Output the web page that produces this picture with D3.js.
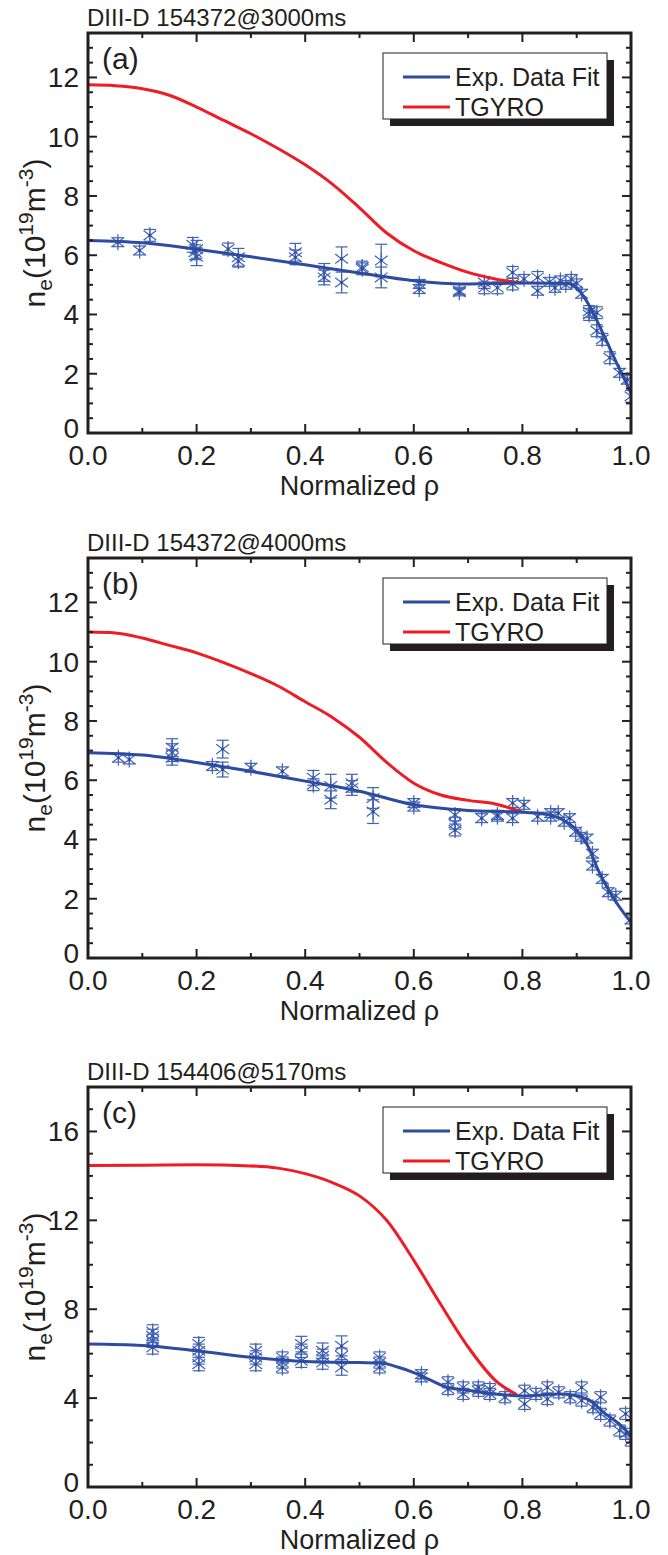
<!DOCTYPE html>
<html>
<head>
<meta charset="utf-8">
<script src="https://cdn.jsdelivr.net/npm/d3@7"></script>
<style>
  body { margin: 0; background: #fff; }
  svg text { font-family: "Liberation Sans", Arial, Helvetica, sans-serif; fill: #231f20; }
</style>
</head>
<body>
<div id="chart"></div>
<script>
// ---- data ----
var titles = ["DIII-D 154372@3000ms", "DIII-D 154372@4000ms", "DIII-D 154406@5170ms"]
var tags = ["(a)", "(b)", "(c)"]

// panel (a)
var fitRhoA = [0, 0.1, 0.2, 0.3, 0.4, 0.5, 0.6, 0.69, 0.8, 0.88, 0.9, 0.92, 0.95, 0.97, 1.0]
var fitA = [6.5, 6.42, 6.2, 5.95, 5.68, 5.4, 5.14, 5.03, 5.06, 5.05, 4.9, 4.4, 3.3, 2.5, 1.35]
var tgRhoA = [0, 0.05, 0.1, 0.15, 0.2, 0.25, 0.3, 0.35, 0.4, 0.45, 0.5, 0.55, 0.6, 0.65, 0.7, 0.75, 0.8]
var tgA = [11.75, 11.72, 11.62, 11.4, 11.0, 10.55, 10.1, 9.6, 9.05, 8.4, 7.6, 6.75, 6.15, 5.75, 5.42, 5.2, 5.06]
var ptRhoA = [0.055, 0.095, 0.114, 0.193, 0.2, 0.2, 0.197, 0.258, 0.277, 0.277, 0.382, 0.382, 0.435, 0.435,
  0.467, 0.467, 0.505, 0.505, 0.54, 0.54, 0.61, 0.61, 0.684, 0.684, 0.73, 0.73, 0.754, 0.782, 0.782, 0.803,
  0.828, 0.828, 0.85, 0.86, 0.87, 0.88, 0.89, 0.9, 0.909, 0.923, 0.923, 0.937, 0.937, 0.947, 0.961, 0.979, 0.993, 1.0]
var ptA = [6.44, 6.16, 6.67, 6.35, 6.2, 5.95, 6.1, 6.21, 5.93, 5.8, 6.1, 5.93, 5.42, 5.25,
  5.88, 5.08, 5.6, 5.54, 5.82, 5.25, 5.03, 4.86, 4.8, 4.75, 5.08, 4.9, 4.9, 5.42, 5.03, 5.2,
  5.25, 4.8, 5.1, 4.9, 5.15, 5.0, 5.2, 5.05, 4.7, 4.0, 4.1, 3.45, 4.06, 3.16, 2.54, 2.03, 1.8, 1.24]
var errA = [0.15, 0.15, 0.2, 0.25, 0.3, 0.3, 0.25, 0.2, 0.3, 0.2, 0.3, 0.25, 0.3, 0.25,
  0.4, 0.35, 0.2, 0.2, 0.55, 0.35, 0.15, 0.15, 0.12, 0.12, 0.2, 0.2, 0.2, 0.2, 0.2, 0.15,
  0.2, 0.15, 0.15, 0.15, 0.15, 0.15, 0.15, 0.15, 0.15, 0.2, 0.2, 0.2, 0.2, 0.2, 0.2, 0.15, 0.15, 0.2]

// panel (b)
var fitRhoB = [0, 0.1, 0.2, 0.3, 0.4, 0.5, 0.6, 0.7, 0.8, 0.85, 0.88, 0.9, 0.92, 0.94, 0.965, 1.0]
var fitB = [6.93, 6.85, 6.6, 6.3, 5.97, 5.63, 5.17, 4.98, 4.92, 4.83, 4.6, 4.32, 3.8, 2.95, 2.1, 1.2]
var tgRhoB = [0, 0.05, 0.1, 0.15, 0.2, 0.25, 0.3, 0.35, 0.4, 0.45, 0.5, 0.55, 0.6, 0.65, 0.7, 0.75, 0.8]
var tgB = [11.0, 10.97, 10.8, 10.55, 10.3, 9.97, 9.6, 9.18, 8.65, 8.12, 7.45, 6.6, 5.9, 5.5, 5.32, 5.2, 4.92]
var ptRhoB = [0.056, 0.076, 0.155, 0.155, 0.155, 0.229, 0.248, 0.248, 0.3, 0.358, 0.415, 0.415, 0.447, 0.447,
  0.486, 0.486, 0.525, 0.525, 0.6, 0.6, 0.676, 0.676, 0.676, 0.725, 0.754, 0.754, 0.782, 0.782, 0.803,
  0.828, 0.852, 0.852, 0.866, 0.877, 0.887, 0.898, 0.908, 0.919, 0.929, 0.929, 0.947, 0.958, 0.972, 1.0]
var ptB = [6.76, 6.7, 7.1, 6.93, 6.76, 6.48, 7.05, 6.36, 6.42, 6.3, 6.08, 5.85, 5.8, 5.34,
  5.9, 5.74, 5.4, 4.94, 5.23, 5.11, 4.83, 4.55, 4.32, 4.72, 4.77, 4.83, 5.23, 4.72, 5.17,
  4.77, 4.89, 4.77, 4.89, 4.6, 4.72, 4.26, 4.09, 4.03, 3.52, 3.12, 2.67, 2.22, 2.1, 1.3]
var errB = [0.15, 0.15, 0.3, 0.3, 0.25, 0.15, 0.3, 0.25, 0.15, 0.15, 0.25, 0.2, 0.4, 0.3,
  0.3, 0.25, 0.35, 0.4, 0.15, 0.15, 0.2, 0.2, 0.2, 0.15, 0.15, 0.15, 0.15, 0.15, 0.15,
  0.15, 0.15, 0.15, 0.15, 0.15, 0.15, 0.15, 0.15, 0.15, 0.15, 0.15, 0.15, 0.15, 0.15, 0.15]

// panel (c)
var fitRhoC = [0, 0.1, 0.2, 0.3, 0.4, 0.5, 0.54, 0.57, 0.6, 0.63, 0.66, 0.7, 0.8, 0.87, 0.92, 0.95, 0.98, 1.0]
var fitC = [6.43, 6.37, 6.13, 5.84, 5.65, 5.6, 5.58, 5.4, 5.15, 4.82, 4.5, 4.35, 4.1, 4.18, 3.95, 3.35, 2.8, 2.3]
var tgRhoC = [0, 0.1, 0.2, 0.3, 0.35, 0.4, 0.45, 0.5, 0.55, 0.6, 0.65, 0.7, 0.75, 0.79]
var tgC = [14.47, 14.48, 14.5, 14.45, 14.35, 14.1, 13.7, 13.1, 12.0, 10.2, 8.2, 6.3, 4.8, 4.15]
var ptRhoC = [0.119, 0.119, 0.119, 0.119, 0.204, 0.204, 0.204, 0.204, 0.309, 0.309, 0.309, 0.358, 0.358, 0.358,
  0.393, 0.393, 0.393, 0.432, 0.432, 0.432, 0.467, 0.467, 0.467, 0.537, 0.537, 0.537, 0.614, 0.614,
  0.663, 0.663, 0.691, 0.691, 0.719, 0.719, 0.74, 0.74, 0.768, 0.804, 0.804, 0.825, 0.846, 0.846,
  0.867, 0.888, 0.909, 0.909, 0.93, 0.944, 0.944, 0.961, 0.979, 0.99, 0.99, 1.0]
var ptC = [7.0, 6.8, 6.58, 6.28, 6.43, 6.13, 5.83, 5.53, 6.13, 5.83, 5.53, 5.83, 5.6, 5.38,
  6.43, 6.13, 5.68, 6.13, 5.9, 5.6, 6.35, 5.9, 5.38, 5.83, 5.6, 5.38, 5.08, 4.93,
  4.71, 4.41, 4.48, 4.19, 4.33, 4.48, 4.19, 4.41, 4.04, 4.33, 3.74, 4.19, 4.48, 3.96,
  4.26, 4.04, 4.48, 3.89, 3.59, 4.04, 3.29, 2.99, 2.54, 3.29, 2.39, 2.09]
var errC = [0.3, 0.3, 0.3, 0.3, 0.3, 0.3, 0.3, 0.3, 0.3, 0.3, 0.3, 0.25, 0.25, 0.25,
  0.35, 0.3, 0.3, 0.35, 0.3, 0.3, 0.45, 0.35, 0.35, 0.25, 0.25, 0.25, 0.2, 0.2,
  0.25, 0.25, 0.25, 0.25, 0.25, 0.25, 0.25, 0.25, 0.25, 0.25, 0.25, 0.25, 0.25, 0.25,
  0.25, 0.25, 0.25, 0.25, 0.25, 0.25, 0.25, 0.25, 0.25, 0.25, 0.25, 0.25]

var yMaxes = [13.5, 13.5, 18]
var yMajor = [[0, 2, 4, 6, 8, 10, 12], [0, 2, 4, 6, 8, 10, 12], [0, 4, 8, 12, 16]]
var yMinorStep = [0.5, 0.5, 1]
var xMajor = [0, 0.2, 0.4, 0.6, 0.8, 1.0]

var panels = [
  { fitX: fitRhoA, fitY: fitA, tgX: tgRhoA, tgY: tgA, px: ptRhoA, py: ptA, pe: errA },
  { fitX: fitRhoB, fitY: fitB, tgX: tgRhoB, tgY: tgB, px: ptRhoB, py: ptB, pe: errB },
  { fitX: fitRhoC, fitY: fitC, tgX: tgRhoC, tgY: tgC, px: ptRhoC, py: ptC, pe: errC }
]

// ---- layout ----
var W = 668, H = 1555
var left = 88, right = 631, plotH = 400
var tops = [33, 558, 1087]
var blueLine = "#2d4b9f", blueMark = "#4262b4", red = "#ee1d25", ink = "#231f20"

var svg = d3.select("#chart").append("svg")
  .attr("width", W)
  .attr("height", H)

var xScale = d3.scaleLinear().domain([0, 1]).range([left, right])

function draw_panel(k) {
  var p = panels[k]
  var top = tops[k], bottom = top + plotH
  var yScale = d3.scaleLinear().domain([0, yMaxes[k]]).range([bottom, top])
  var g = svg.append("g")

  var minorY = d3.range(0, yMaxes[k] + 1e-9, yMinorStep[k])
  var minorX = d3.range(0, 1.0001, 0.1)

  // clip so curves stay inside the frame
  var clipId = "clip" + k
  svg.append("clipPath").attr("id", clipId)
    .append("rect").attr("x", left).attr("y", top).attr("width", right - left).attr("height", plotH)

  var line = d3.line()
    .x(function (d) { return xScale(d[0]) })
    .y(function (d) { return yScale(d[1]) })
    .curve(d3.curveMonotoneX)

  var plot = g.append("g").attr("clip-path", "url(#" + clipId + ")")

  // error bars + asterisk markers
  var pts = p.px.map(function (x, i) { return [x, p.py[i], p.pe[i]] })
  var mk = plot.append("g").attr("stroke", blueMark).attr("stroke-width", 1.2).attr("fill", "none")
  pts.forEach(function (d) {
    var cx = xScale(d[0]), cy = yScale(d[1])
    var y1 = yScale(d[1] + d[2]), y2 = yScale(d[1] - d[2])
    mk.append("line").attr("x1", cx).attr("x2", cx).attr("y1", y1).attr("y2", y2)
    mk.append("line").attr("x1", cx - 6).attr("x2", cx + 6).attr("y1", y1).attr("y2", y1)
    mk.append("line").attr("x1", cx - 6).attr("x2", cx + 6).attr("y1", y2).attr("y2", y2)
    var r = 8
    mk.append("line").attr("x1", cx).attr("x2", cx).attr("y1", cy - r).attr("y2", cy + r)
    mk.append("line").attr("x1", cx - r * 0.8).attr("x2", cx + r * 0.8).attr("y1", cy - r * 0.6).attr("y2", cy + r * 0.6)
    mk.append("line").attr("x1", cx - r * 0.8).attr("x2", cx + r * 0.8).attr("y1", cy + r * 0.6).attr("y2", cy - r * 0.6)
    mk.append("circle").attr("cx", cx).attr("cy", cy).attr("r", 1.5).attr("fill", blueLine).attr("stroke", "none")
  })

  // red TGYRO curve
  plot.append("path")
    .datum(p.tgX.map(function (x, i) { return [x, p.tgY[i]] }))
    .attr("d", line)
    .attr("fill", "none")
    .attr("stroke", red)
    .attr("stroke-width", 3)

  // blue fit curve
  plot.append("path")
    .datum(p.fitX.map(function (x, i) { return [x, p.fitY[i]] }))
    .attr("d", line)
    .attr("fill", "none")
    .attr("stroke", blueLine)
    .attr("stroke-width", 3)

  // ticks, all pointing inward
  var tk = g.append("g").attr("stroke", ink)
  minorX.forEach(function (v, i) {
    var len = (i % 2 == 0) ? 9 : 5
    var x = xScale(v)
    tk.append("line").attr("x1", x).attr("x2", x).attr("y1", bottom).attr("y2", bottom - len).attr("stroke-width", 2)
    tk.append("line").attr("x1", x).attr("x2", x).attr("y1", top).attr("y2", top + len).attr("stroke-width", 2)
  })
  minorY.forEach(function (v) {
    var isMajor = yMajor[k].indexOf(v) >= 0
    var len = isMajor ? 9 : 5
    var y = yScale(v)
    tk.append("line").attr("x1", left).attr("x2", left + len).attr("y1", y).attr("y2", y).attr("stroke-width", 2)
    tk.append("line").attr("x1", right).attr("x2", right - len).attr("y1", y).attr("y2", y).attr("stroke-width", 2)
  })

  // frame
  g.append("rect")
    .attr("x", left).attr("y", top)
    .attr("width", right - left).attr("height", plotH)
    .attr("fill", "none").attr("stroke", ink).attr("stroke-width", 3)

  // tick labels
  xMajor.forEach(function (v) {
    g.append("text").attr("x", xScale(v)).attr("y", bottom + 32)
      .attr("text-anchor", "middle").style("font-size", "28px").text(v.toFixed(1))
  })
  yMajor[k].forEach(function (v) {
    g.append("text").attr("x", left - 9).attr("y", yScale(v) + (v == 0 ? 5 : 10))
      .attr("text-anchor", "end").style("font-size", "28px").text(v)
  })

  // axis titles
  g.append("text").attr("x", (left + right) / 2).attr("y", bottom + 62)
    .attr("text-anchor", "middle").style("font-size", "27px").text("Normalized \u03c1")

  var yl = g.append("text")
    .attr("transform", "translate(45," + (top + plotH / 2) + ") rotate(-90)")
    .attr("text-anchor", "middle").style("font-size", "30px")
  yl.append("tspan").text("n")
  yl.append("tspan").attr("dy", 7).style("font-size", "21px").text("e")
  yl.append("tspan").attr("dy", -7).text("(10")
  yl.append("tspan").attr("dy", -12).style("font-size", "21px").text("19")
  yl.append("tspan").attr("dy", 12).text("m")
  yl.append("tspan").attr("dy", -12).style("font-size", "21px").text("-3")
  yl.append("tspan").attr("dy", 12).text(")")

  // title and tag
  g.append("text").attr("x", left - 1).attr("y", top - 7)
    .style("font-size", "24px").text(titles[k])
  g.append("text").attr("x", left + 14).attr("y", top + 36)
    .style("font-size", "30px").text(tags[k])

  // legend with drop shadow
  var lx = 383, ly = top + 20, lw = 224, lh = 66
  g.append("rect").attr("x", lx + 7).attr("y", ly + 7).attr("width", lw).attr("height", lh).attr("fill", ink)
  g.append("rect").attr("x", lx).attr("y", ly).attr("width", lw).attr("height", lh)
    .attr("fill", "#fff").attr("stroke", ink).attr("stroke-width", 1)
  var items = [["Exp. Data Fit", blueLine], ["TGYRO", red]]
  items.forEach(function (it, i) {
    var yy = ly + 24 + i * 30
    g.append("line").attr("x1", lx + 20).attr("x2", lx + 67).attr("y1", yy).attr("y2", yy)
      .attr("stroke", it[1]).attr("stroke-width", 3)
    g.append("text").attr("x", lx + 72).attr("y", yy + 9).style("font-size", "25px").text(it[0])
  })
}

for (var k = 0; k < 3; k++) {
  draw_panel(k)
}
</script>
</body>
</html>
